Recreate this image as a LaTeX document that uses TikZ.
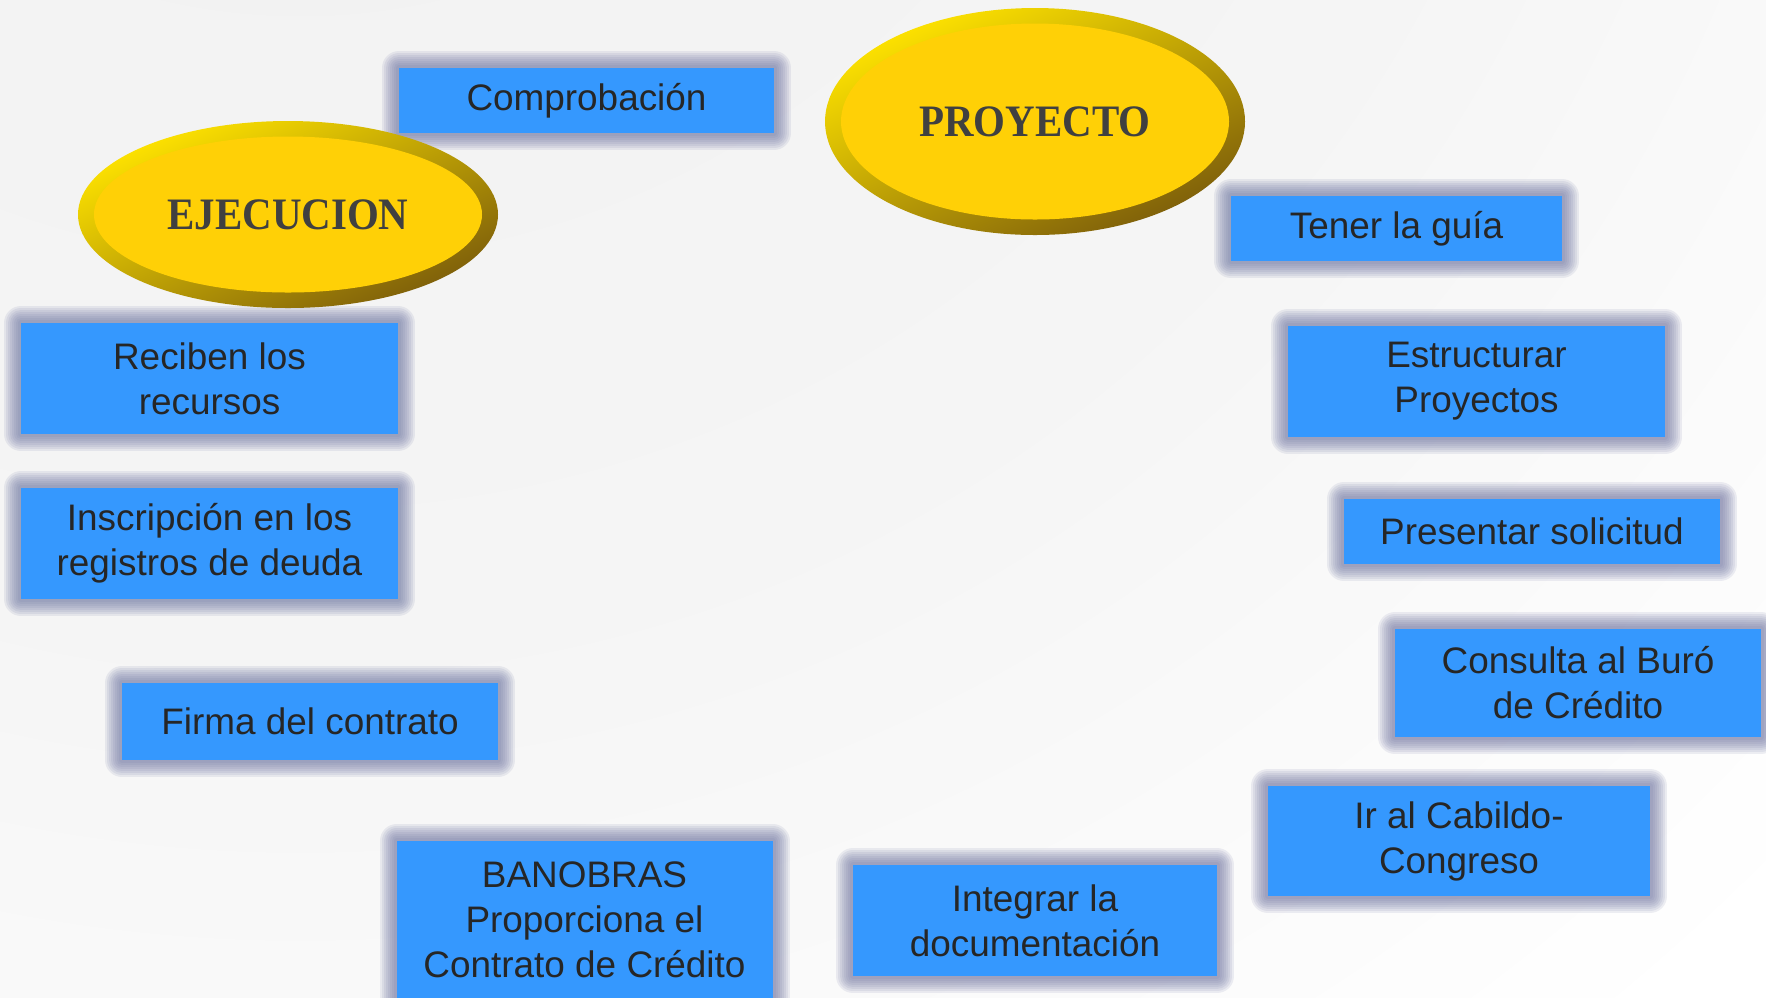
\documentclass[tikz,border=0pt]{standalone}
\usepackage{fontspec}
\setmainfont{Liberation Sans}
\newfontfamily\serifcap[FakeStretch=0.91]{Liberation Serif}
\usetikzlibrary{shapes.geometric}

\definecolor{cajaazul}{RGB}{53,152,254}
\definecolor{brillo}{RGB}{112,118,162}
\definecolor{oroclaro}{RGB}{255,228,0}
\definecolor{orooscuro}{RGB}{125,94,10}
\definecolor{orocentro}{RGB}{255,208,6}
\definecolor{letra}{RGB}{38,38,38}
\definecolor{letraoro}{RGB}{64,64,64}
\definecolor{fondoA}{RGB}{240,240,240}
\definecolor{fondoB}{RGB}{245,245,245}
\definecolor{fondoC}{RGB}{249,249,249}
\definecolor{fondoD}{RGB}{220,220,220}

\pgfdeclareradialshading{fondo}{\pgfpointorigin}{color(0bp)=(fondoA); color(14bp)=(fondoB);
  color(24bp)=(white); color(33bp)=(white); color(38bp)=(fondoC); color(49bp)=(fondoD); color(50bp)=(fondoD)}

\tikzset{
  halo/.style={preaction={draw=brillo, draw opacity=.12, line width=#1, line join=round}},
  paso/.style={rectangle, fill=cajaazul, inner sep=0pt, align=center, text=letra,
    font=\fontsize{10.5}{12.8}\selectfont,
    halo=3.4mm, halo=3.0mm, halo=2.6mm, halo=2.2mm, halo=1.8mm, halo=1.4mm, halo=1.0mm, halo=0.6mm},
  anillo/.style={ellipse, inner sep=0pt, top color=oroclaro, bottom color=orooscuro, shading angle=25},
  centro/.style={ellipse, inner sep=0pt, fill=orocentro, text=letraoro,
    font=\serifcap\bfseries\fontsize{12.8}{15}\selectfont}
}

\begin{document}
\begin{tikzpicture}[x=0.1mm, y=-0.1mm]
\useasboundingbox (0,0) rectangle (1766,997);
\begin{scope}
\clip (0,0) rectangle (1766,997);
\shade[shading=fondo] (300,-600) circle [radius=220mm];
\end{scope}

% ejecucion
\node[paso, minimum width=37.5mm, minimum height=6.5mm] (comprob) at (586.5,100.5) {Comprobación};
\node[paso, minimum width=37.7mm, minimum height=11.1mm] (reciben) at (209.5,378.5) {Reciben los\\recursos};
\node[paso, minimum width=37.7mm, minimum height=11.1mm] (inscrip) at (209.5,543.5) {Inscripción en los\\registros de deuda};
\node[paso, minimum width=37.6mm, minimum height=7.7mm] (firma) at (310,721.5) {Firma del contrato};
\node[paso, minimum width=37.6mm, minimum height=15.8mm] (banobras) at (584.5,920) {BANOBRAS\\Proporciona el\\Contrato de Crédito};

% proyecto
\node[paso, minimum width=33.1mm, minimum height=6.5mm] (guia) at (1396.5,228.5) {Tener la guía};
\node[paso, minimum width=37.7mm, minimum height=11.1mm] (estruct) at (1476.5,381.5) {Estructurar\\Proyectos};
\node[paso, minimum width=37.6mm, minimum height=6.5mm] (solicitud) at (1532,531.5) {Presentar solicitud};
\node[paso, minimum width=36.6mm, minimum height=10.8mm] (buro) at (1578,683) {Consulta al Buró\\de Crédito};
\node[paso, minimum width=38.2mm, minimum height=11.0mm] (cabildo) at (1459,841) {Ir al Cabildo-\\Congreso};
\node[paso, minimum width=36.4mm, minimum height=11.1mm] (integrar) at (1035,920.5) {Integrar la\\documentación};

% las dos fases
\node[anillo, minimum width=42mm, minimum height=18.7mm] (ejecborde) at (288,214.5) {};
\node[centro, minimum width=38.8mm, minimum height=15.6mm] (ejec) at (ejecborde) {EJECUCION};
\node[anillo, minimum width=42mm, minimum height=22.7mm] (proyborde) at (1035,121.5) {};
\node[centro, minimum width=38.8mm, minimum height=19.6mm] (proy) at (proyborde) {PROYECTO};
\end{tikzpicture}
\end{document}
